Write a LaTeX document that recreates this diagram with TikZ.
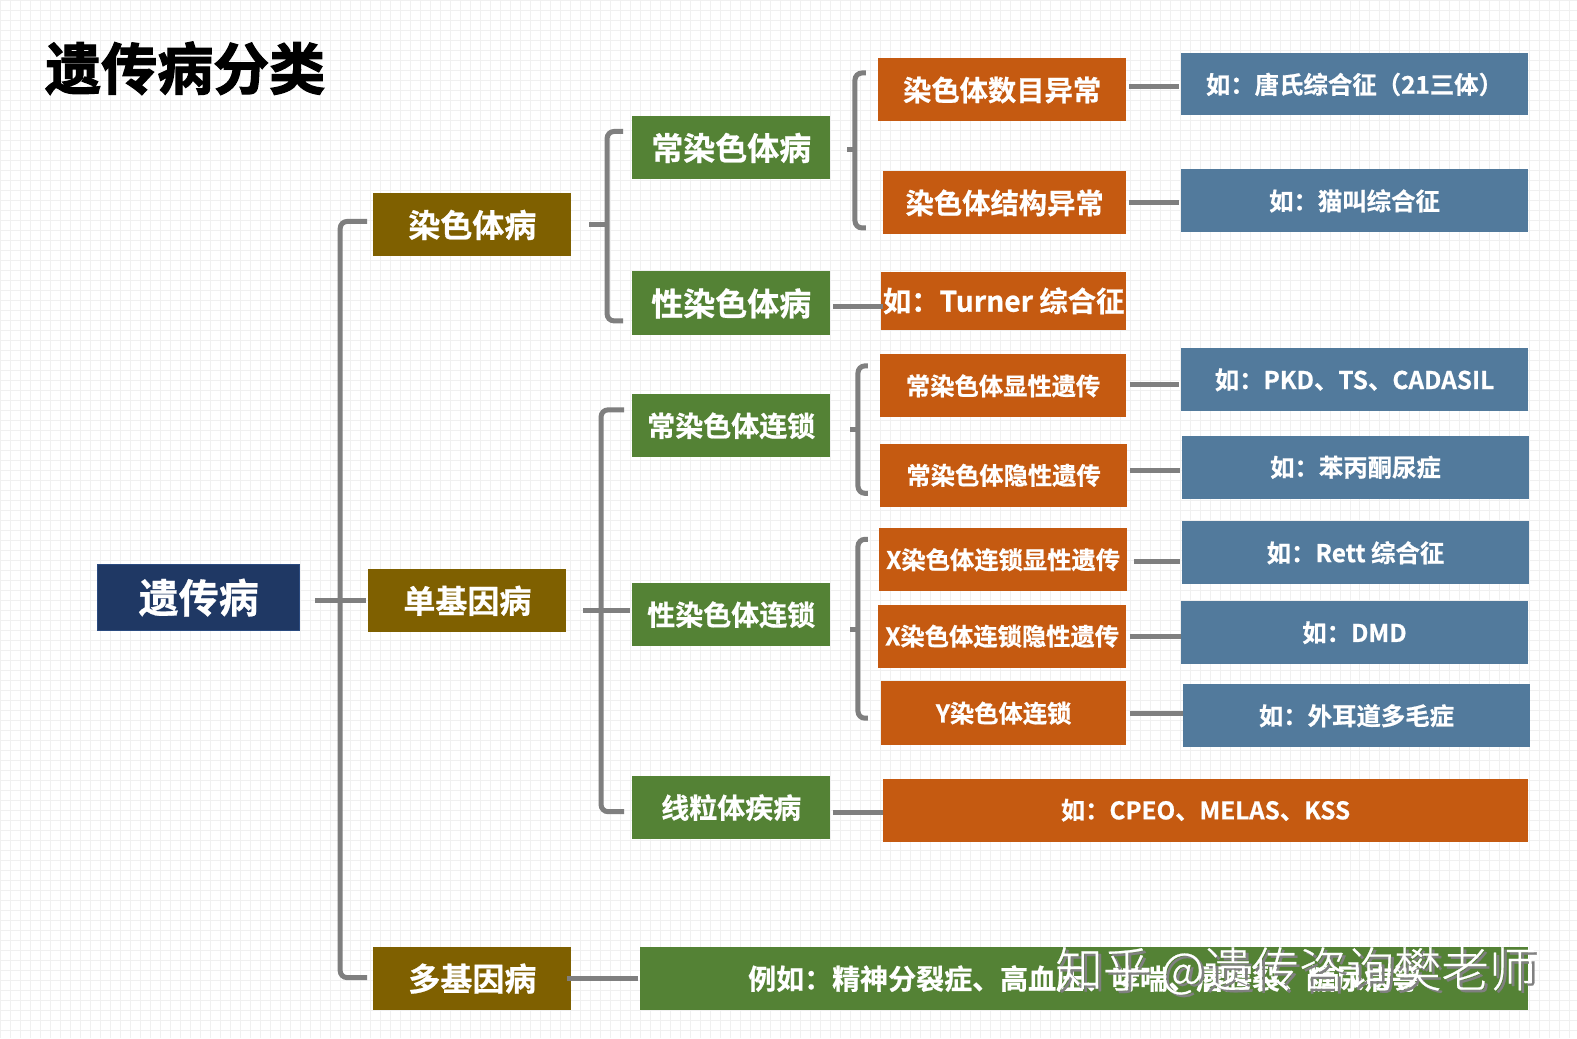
\documentclass[tikz,border=0pt]{standalone}
\usepackage{fontspec}
\setmainfont{Noto Sans CJK SC}[BoldFont={Noto Sans CJK SC Bold},BoldFeatures={FakeBold=0.7}]
\newfontfamily\titlefont{Noto Sans CJK SC Bold}[FakeBold=2.2]
\newfontfamily\markfont{Noto Sans CJK SC Light}[FakeBold=0.5]
\usepackage{xcolor}
\definecolor{rootblue}{HTML}{1F3864}
\definecolor{rootedge}{HTML}{2A4A80}
\definecolor{brownbox}{HTML}{7F6000}
\definecolor{greenbox}{HTML}{548235}
\definecolor{orangebox}{HTML}{C55A11}
\definecolor{bluebox}{HTML}{527A9C}
\definecolor{linkgray}{HTML}{7F7F7F}
\newcommand{\fsize}[1]{\fontsize{#1}{#1}\selectfont\bfseries}
\tikzset{
	box/.style={anchor=north west, inner sep=0pt, align=center, text=white},
	rootbox/.style={box, fill=rootblue, draw=rootedge, line width=1pt, font=\fsize{40}},
	brownnode/.style={box, fill=brownbox, font=\fsize{32}},
	greennode/.style={box, fill=greenbox, font=\fsize{32}},
	greensmall/.style={box, fill=greenbox, font=\fsize{28}},
	orangenode/.style={box, fill=orangebox, font=\fsize{28.3}},
	orangesmall/.style={box, fill=orangebox, font=\fsize{24.3}},
	bluenode/.style={box, fill=bluebox, font=\fsize{24.4}},
	link/.style={draw=linkgray, line width=5pt},
	brace/.style={link, rounded corners=7pt},
}
\begin{document}
\begin{tikzpicture}[x=1pt, y=-1pt]

	% Background
	\fill[white] (0,0) rectangle (1577,1038);
	\draw[black!6, line width=0.6pt, step=10pt] (0,0) grid (1577,1038);
	\useasboundingbox (0,0) rectangle (1577,1038);

	% Title
	\node[font=\titlefont\fontsize{56}{56}\selectfont, text=black, inner sep=0pt] (title) at (185,68) {遗传病分类};

	% Root
	\node[rootbox, minimum width=202pt, minimum height=66pt] (root) at (97,564) {遗传病};

	% First Level
	\node[brownnode, minimum width=198pt, minimum height=63pt] (chrom) at (373,193) {染色体病};
	\node[brownnode, minimum width=198pt, minimum height=63pt] (single) at (368,569) {单基因病};
	\node[brownnode, minimum width=198pt, minimum height=63pt] (poly) at (373,947) {多基因病};

	% Second Level
	\node[greennode, minimum width=198pt, minimum height=63pt] (auto) at (632,116) {常染色体病};
	\node[greennode, minimum width=198pt, minimum height=64pt] (sex) at (632,271) {性染色体病};
	\node[greensmall, minimum width=198pt, minimum height=63pt] (autolink) at (632,394) {常染色体连锁};
	\node[greensmall, minimum width=198pt, minimum height=63pt] (sexlink) at (632,583) {性染色体连锁};
	\node[greensmall, minimum width=198pt, minimum height=63pt] (mito) at (632,776) {线粒体疾病};
	\node[greensmall, minimum width=888pt, minimum height=63pt] (polyeg) at (640,947) {例如：精神分裂症、高血压、哮喘、唇腭裂、糖尿病等};

	% Third Level
	\node[orangenode, minimum width=248pt, minimum height=63pt] (number) at (878,58) {染色体数目异常};
	\node[orangenode, minimum width=243pt, minimum height=63pt] (struct) at (883,171) {染色体结构异常};
	\node[orangenode, minimum width=245pt, minimum height=58pt] (turner) at (881,271.5) {如：Turner 综合征};
	\node[orangesmall, minimum width=246pt, minimum height=63pt] (autodom) at (880,354) {常染色体显性遗传};
	\node[orangesmall, minimum width=247pt, minimum height=63pt] (autorec) at (880,443.5) {常染色体隐性遗传};
	\node[orangesmall, minimum width=248pt, minimum height=63pt] (xdom) at (879,528) {X染色体连锁显性遗传};
	\node[orangesmall, minimum width=248pt, minimum height=63pt] (xrec) at (878,604.5) {X染色体连锁隐性遗传};
	\node[orangesmall, minimum width=245pt, minimum height=64pt] (ylink) at (881,681) {Y染色体连锁};
	\node[orangesmall, minimum width=645pt, minimum height=63pt] (mitoeg) at (883,778.5) {如：CPEO、MELAS、KSS};

	% Examples
	\node[bluenode, minimum width=347pt, minimum height=62pt] (down) at (1181,53) {如：唐氏综合征（21三体）};
	\node[bluenode, minimum width=347pt, minimum height=63pt] (cat) at (1181,169) {如：猫叫综合征};
	\node[bluenode, minimum width=347pt, minimum height=63pt] (pkd) at (1181,348) {如：PKD、TS、CADASIL};
	\node[bluenode, minimum width=347pt, minimum height=63pt] (pku) at (1182,435.5) {如：苯丙酮尿症};
	\node[bluenode, minimum width=347pt, minimum height=63pt] (rett) at (1182,521) {如：Rett 综合征};
	\node[bluenode, minimum width=347pt, minimum height=63pt] (dmd) at (1181,601) {如：DMD};
	\node[bluenode, minimum width=347pt, minimum height=63pt] (ear) at (1183,684) {如：外耳道多毛症};

	% Watermark
	\node[font=\markfont\fontsize{47.5}{47.5}\selectfont, text=black!50, inner sep=0pt] (markshadow) at (1299,973.5) {知乎 @遗传咨询樊老师};
	\node[font=\markfont\fontsize{47.5}{47.5}\selectfont, text=white, inner sep=0pt] (mark) at (1296,971) {知乎 @遗传咨询樊老师};

	% Braces
	\coordinate (spineroot) at (340,0);
	\coordinate (spinechrom) at (607,0);
	\coordinate (spineauto) at (855,0);
	\coordinate (spinesingle) at (601,0);
	\coordinate (spinelink) at (858,0);

	\draw[brace] ([xshift=-6pt,yshift=3.5pt]chrom.west) -- ([yshift=3.5pt]spineroot |- chrom.west) -- ([yshift=1pt]spineroot |- poly.west) -- ([xshift=-6pt,yshift=1pt]poly.west);
	\draw[link] ([xshift=15pt]root.east |- single.west) -- ([xshift=-2pt]single.west);

	\draw[brace] ([xshift=-9pt,yshift=16.5pt]auto.west) -- ([yshift=16.5pt]spinechrom |- auto.west) -- ([yshift=-17.5pt]spinechrom |- sex.west) -- ([xshift=-9pt,yshift=-17.5pt]sex.west);
	\draw[link] ([xshift=18pt]chrom.east) -- (spinechrom |- chrom.east);

	\draw[brace] ([xshift=-12pt,yshift=17pt]number.west) -- ([yshift=17pt]spineauto |- number.west) -- ([yshift=-25pt]spineauto |- struct.west) -- ([xshift=-17pt,yshift=-25pt]struct.west);
	\draw[link] ([xshift=17pt,yshift=-2pt]auto.east) -- ([yshift=-2pt]spineauto |- auto.east);

	\draw[brace] ([xshift=-8pt,yshift=16pt]autolink.west) -- ([yshift=16pt]spinesingle |- autolink.west) -- ([yshift=-4pt]spinesingle |- mito.west) -- ([xshift=-8pt,yshift=-4pt]mito.west);
	\draw[link] ([xshift=17pt,yshift=4pt]single.east |- sexlink.west) -- ([xshift=-2pt,yshift=4pt]sexlink.west);

	\draw[brace] ([xshift=-12pt,yshift=20pt]autodom.west) -- ([yshift=20pt]spinelink |- autodom.west) -- ([yshift=-18pt]spinelink |- autorec.west) -- ([xshift=-12pt,yshift=-18pt]autorec.west);
	\draw[link] ([xshift=20pt,yshift=-3.5pt]autolink.east) -- ([yshift=-3.5pt]spinelink |- autolink.east);

	\draw[brace] ([xshift=-11pt,yshift=20.5pt]xdom.west) -- ([yshift=20.5pt]spinelink |- xdom.west) -- ([yshift=-5pt]spinelink |- ylink.west) -- ([xshift=-13pt,yshift=-5pt]ylink.west);
	\draw[link] ([xshift=20pt,yshift=-14.5pt]sexlink.east) -- ([yshift=-14.5pt]spinelink |- sexlink.east);

	% Links
	\draw[link] ([xshift=3pt,yshift=-3pt]sex.east) -- ([xshift=2pt,yshift=-3pt]turner.west |- sex.east);
	\draw[link] ([xshift=3pt,yshift=-5pt]mito.east) -- ([yshift=-5pt]mitoeg.west |- mito.east);
	\draw[link] ([xshift=-4pt]poly.east) -- ([xshift=-2pt]polyeg.west |- poly.east);
	\draw[link] ([xshift=3pt,yshift=3pt]number.east) -- ([xshift=-2pt,yshift=3pt]down.west |- number.east);
	\draw[link] ([xshift=3pt]struct.east) -- ([xshift=-2pt]cat.west |- struct.east);
	\draw[link] ([xshift=3.5pt,yshift=1.5pt]autodom.east) -- ([xshift=-2pt,yshift=1.5pt]pkd.west |- autodom.east);
	\draw[link] ([xshift=3pt,yshift=5pt]autorec.east) -- ([xshift=-2pt,yshift=5pt]pku.west |- autorec.east);
	\draw[link] ([xshift=6.5pt,yshift=-2pt]xdom.east) -- ([xshift=-2pt,yshift=-2pt]rett.west |- xdom.east);
	\draw[link] ([xshift=3.5pt]xrec.east) -- (dmd.west |- xrec.east);
	\draw[link] ([xshift=3.5pt]ylink.east) -- (ear.west |- ylink.east);

\end{tikzpicture}
\end{document}
